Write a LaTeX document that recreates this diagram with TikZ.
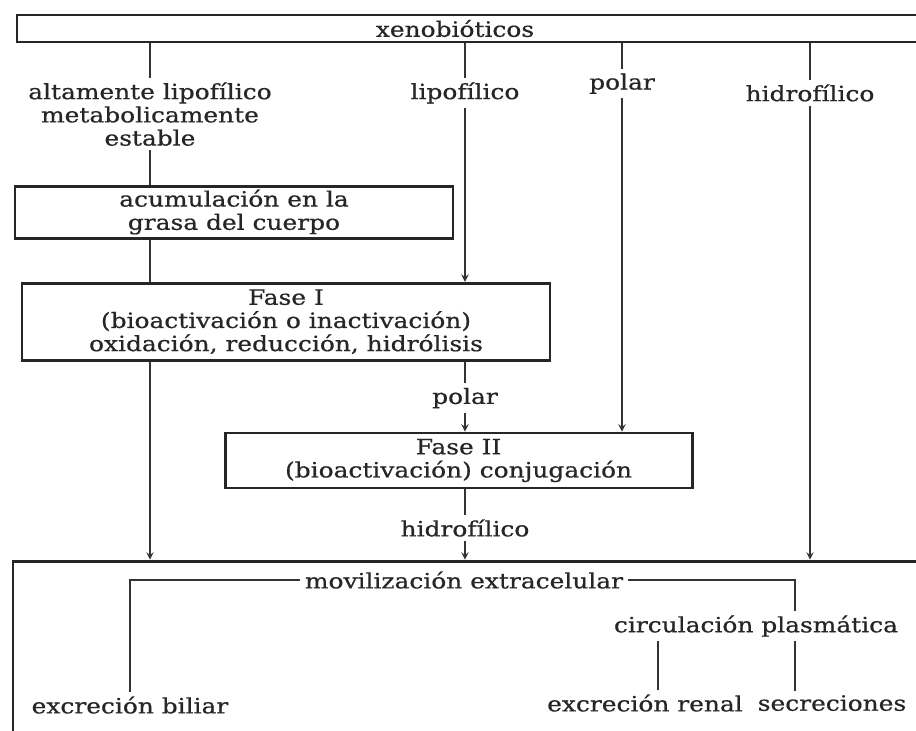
\documentclass[tikz,border=0pt]{standalone}
\usepackage{fontspec}
\setmainfont{DejaVu Serif}[FakeStretch=1.18, FakeBold=0.6]
\usepackage{tikz}
\usetikzlibrary{shapes.geometric, arrows}
\tikzstyle{box} = [rectangle, draw=black!85, line width=2pt, align=center, text=black!85, inner sep=2pt]
\tikzstyle{lbl} = [align=center, text=black!85, inner sep=3pt]
\tikzstyle{link} = [line width=1.3pt, draw=black!80]
\tikzstyle{arrow} = [link,->,>=stealth]

\begin{document}
\begin{tikzpicture}[font=\fontsize{15}{16.5}\selectfont]
  \useasboundingbox[fill=white] (-11.9,0.7125) rectangle (11.0,-17.5375);
  \node (xeno) [box, minimum width=22.95cm, minimum height=0.675cm, inner sep=1pt] at (0,0) {\hspace*{-1.05cm}xenobióticos};
  \node (alt) [lbl, below of=xeno, xshift=-8.15cm, yshift=-1.14cm]{altamente lipofílico\\
    metabolicamente\\
    estable};
  \node (lipo) [lbl, below of=xeno, xshift=-0.275cm, yshift=-0.61cm]{lipofílico};
  \node (polar) [lbl, below of=xeno, xshift=3.65cm, yshift=-0.38cm]{polar};
  \node (hidro) [lbl, below of=xeno, xshift=8.35cm, yshift=-0.61cm]{hidrofílico};
  \node (acum) [box, below of=alt, xshift=2.1cm, yshift=-1.45cm, minimum width=10.95cm, minimum height=1.3cm]{acumulación en la\\
    grasa del cuerpo};
  \node (fase1) [box, below of=acum, xshift=1.3cm, yshift=-1.74cm, minimum width=13.2cm, minimum height=1.925cm]{Fase I\\
    (bioactivación o inactivación)\\
    oxidación, reducción, hidrólisis};
  \node (polar2) [lbl, below of=fase1, xshift=4.475cm, yshift=-0.91cm]{polar};
  \node (fase2) [box, below of=polar2, xshift=-0.16cm, yshift=-0.56cm, minimum width=11.675cm, minimum height=1.375cm]{Fase II\\
    (bioactivación) conjugación};
  \node (hidro2) [lbl, below of=fase2, xshift=0.16cm, yshift=-0.69cm]{hidrofílico};
  \node (movbox) [box, below of=hidro2, xshift=0.225cm, yshift=-2.1cm, minimum width=23.05cm, minimum height=4.55cm]{};
  \node (movil) [lbl, below of=hidro2, xshift=-0.025cm, yshift=-0.3cm]{movilización extracelular};
  \node (circ) [lbl, below of=movil, xshift=7.3cm, yshift=-0.15cm]{circulación plasmática};
  \node (renal) [lbl, below of=circ, xshift=-2.775cm, yshift=-0.925cm]{excreción renal};
  \node (secre) [lbl, right of=renal, xshift=3.675cm]{secreciones};
  \node (biliar) [lbl, left of=renal, xshift=-11.875cm, yshift=-0.05cm]{excreción biliar};
  \draw[link] (xeno.south -| alt) -- (alt);
  \draw[link] (xeno.south -| lipo) -- (lipo);
  \draw[link] (xeno.south -| polar) -- (polar);
  \draw[link] (xeno.south -| hidro) -- (hidro);
  \draw[link] (alt) -- (alt |- acum.north);
  \draw[link] (acum.south -| alt) -- (fase1.north -| alt);
  \draw[arrow] (lipo) -- (lipo |- fase1.north);
  \draw[arrow] (polar) -- (polar |- fase2.north);
  \draw[arrow] (hidro) -- (hidro |- movbox.north);
  \draw[arrow] (fase1.south -| alt) -- (movbox.north -| alt);
  \draw[link] (fase1.south -| polar2) -- (polar2);
  \draw[arrow] (polar2) -- (polar2 |- fase2.north);
  \draw[link] (fase2.south -| hidro2) -- (hidro2);
  \draw[arrow] (hidro2) -- (hidro2 |- movbox.north);
  \draw[link] (movil.west) -| (biliar.north);
  \draw[link] (movil.east) -| ([xshift=0.975cm]circ.north);
  \draw[link] ([xshift=-2.45cm]circ.south) -- ([xshift=-2.45cm]circ.south |- renal.north);
  \draw[link] ([xshift=0.975cm]circ.south) -- ([xshift=0.975cm]circ.south |- secre.north);
\end{tikzpicture}
\end{document}
